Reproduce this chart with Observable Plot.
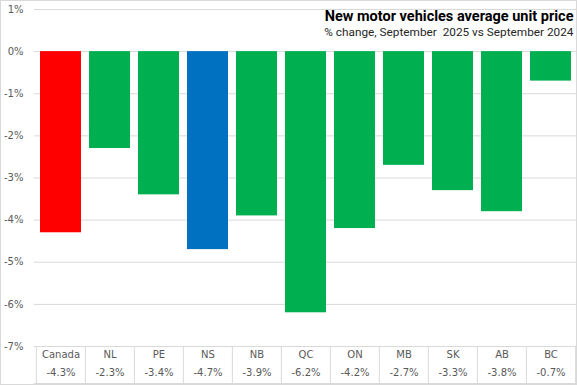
<!DOCTYPE html>
<html><head><meta charset="utf-8">
<script src="https://cdn.jsdelivr.net/npm/d3@7"></script>
<script src="https://cdn.jsdelivr.net/npm/@observablehq/plot@0.6"></script>
<style>
body{margin:0;background:#fff}
#chart svg{display:block;outline:1px solid #d9d9d9;outline-offset:-1px}
</style>
</head><body><div id="chart"></div>
<script>
const regions = ["Canada","NL","PE","NS","NB","QC","ON","MB","SK","AB","BC"];
const changes = [-4.3,-2.3,-3.4,-4.7,-3.9,-6.2,-4.2,-2.7,-3.3,-3.8,-0.7];
const barColors = ["#FF0000","#00B050","#00B050","#0070C0","#00B050","#00B050","#00B050","#00B050","#00B050","#00B050","#00B050"];
const yTicks = [1,0,-1,-2,-3,-4,-5,-6,-7];
const titleText = "New motor vehicles average unit price";
const subtitleText = "% change, September  2025 vs September 2024";

const data = regions.map((r,i)=>({region:r, change:changes[i], color:barColors[i]}));
const valueOf = new Map(data.map(d=>[d.region, d.change.toFixed(1)+"%"]));

const W=577, H=385, mL=34, mR=1, mT=9, mB=39;
const step = (W-mL-mR)/regions.length;
const labelColor = "#595959";
const gridColor = "#d9d9d9";

const chart = Plot.plot({
  width: W, height: H,
  marginLeft: mL, marginRight: mR, marginTop: mT, marginBottom: mB,
  style: {fontFamily: "'DejaVu Sans', sans-serif", fontSize: "10px", color: labelColor, background: "#fff"},
  x: {domain: regions, paddingInner: 0.17, paddingOuter: 0.085, axis: null, label: null},
  y: {domain: [-7, 1], axis: null, label: null},
  marks: [
    Plot.gridY(yTicks, {stroke: gridColor, strokeOpacity: 1}),
    Plot.axisY(yTicks, {tickSize: 0, tickPadding: 11, tickFormat: d => d + "%", fill: labelColor, fontSize: 10, label: null}),
    Plot.barY(data, {x: "region", y: "change", fill: "color"}),
    // table separators
    Plot.axisX(regions, {tickSize: 37, text: null, stroke: gridColor, strokeOpacity: 1, dx: -step/2, label: null}),
    Plot.axisX([regions[regions.length-1]], {tickSize: 37, text: null, stroke: gridColor, strokeOpacity: 1, dx: step/2, label: null}),
    Plot.ruleY([-7], {stroke: gridColor, dy: 37}),
    // category labels and values
    Plot.axisX(regions, {tickSize: 0, tickPadding: 4, fill: labelColor, fontSize: 10, label: null}),
    Plot.axisX(regions, {tickSize: 0, tickPadding: 22, tickFormat: d => valueOf.get(d), fill: labelColor, fontSize: 10, label: null}),
    // title & subtitle
    Plot.text([titleText], {frameAnchor: "top-right", text: d => d, dx: -3, dy: 1.5, lineAnchor: "top",
      fontFamily: "Roboto, sans-serif", fontSize: 14.5, fontWeight: "bold", fill: "#000"}),
    Plot.text([subtitleText], {frameAnchor: "top-right", text: d => d, dx: -3, dy: 18, lineAnchor: "top",
      fontFamily: "Roboto, sans-serif", fontSize: 11.8, fill: "#262626"})
  ]
});
document.getElementById("chart").append(chart);
</script>
</body></html>
